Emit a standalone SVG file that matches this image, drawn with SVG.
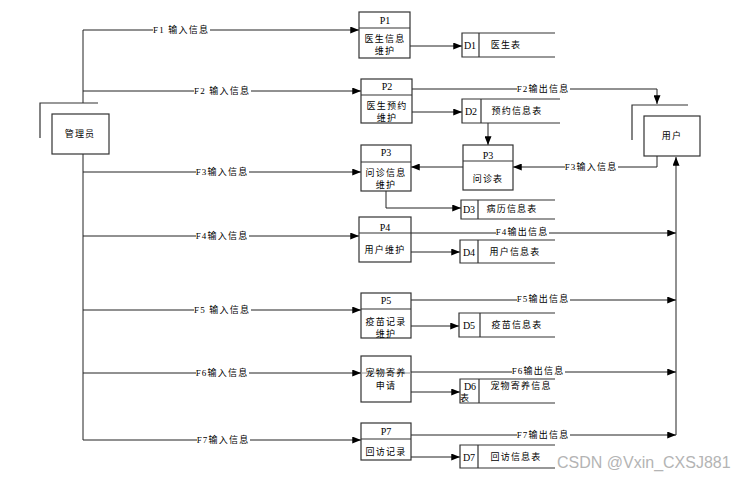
<svg xmlns="http://www.w3.org/2000/svg" width="751" height="480" viewBox="0 0 751 480">
<style>
.b{fill:#fff;stroke:#333;stroke-width:1.2}
.l{fill:none;stroke:#333;stroke-width:1.2}
.c{fill:none;stroke:#222;stroke-width:1}
.t{font-family:"Liberation Serif","Noto Sans CJK SC",serif;font-size:9px;letter-spacing:1.2px;fill:#000;text-anchor:middle;dominant-baseline:central}
.p{font-family:"Liberation Serif",serif;font-size:10px;fill:#000;text-anchor:middle;dominant-baseline:central}
.bg{fill:#fff}
.w{font-family:"Liberation Sans",Arial,sans-serif;font-size:16px;fill:#b4b4b4}
</style>
<defs>
<marker id="a" viewBox="0 0 10 8" refX="10" refY="4" markerWidth="9" markerHeight="7" markerUnits="userSpaceOnUse" orient="auto">
<path d="M0,0L10,4L0,8z" fill="#000"/>
</marker>
</defs>
<g id="connectors">
<path class="c" d="M83,103V30H359" marker-end="url(#a)"/>
<path class="c" d="M83,154V440H361" marker-end="url(#a)"/>
<path class="c" d="M83,91H361" marker-end="url(#a)"/>
<path class="c" d="M83,172H361" marker-end="url(#a)"/>
<path class="c" d="M83,236H359" marker-end="url(#a)"/>
<path class="c" d="M83,310H361" marker-end="url(#a)"/>
<path class="c" d="M83,373H361" marker-end="url(#a)"/>
<path class="c" d="M410,46H462" marker-end="url(#a)"/>
<path class="c" d="M412,112H462" marker-end="url(#a)"/>
<path class="c" d="M411,252H460" marker-end="url(#a)"/>
<path class="c" d="M411,326H459" marker-end="url(#a)"/>
<path class="c" d="M411,392H460" marker-end="url(#a)"/>
<path class="c" d="M411,457H460" marker-end="url(#a)"/>
<path class="c" d="M412,89H657V104" marker-end="url(#a)"/>
<path class="c" d="M657,156V167H513" marker-end="url(#a)"/>
<path class="c" d="M463,167H411" marker-end="url(#a)"/>
<path class="c" d="M488,123V145" marker-end="url(#a)"/>
<path class="c" d="M386,191V208H461" marker-end="url(#a)"/>
<path class="c" d="M411,233H676" marker-end="url(#a)"/>
<path class="c" d="M411,300H676" marker-end="url(#a)"/>
<path class="c" d="M411,372H676" marker-end="url(#a)"/>
<path class="c" d="M411,435H676" marker-end="url(#a)"/>
<path class="c" d="M676,435V157" marker-end="url(#a)"/>
<g id="labels">
<rect class="bg" x="153" y="25" width="57" height="10"/><text class="t" x="181" y="30">F1 输入信息</text>
<rect class="bg" x="194" y="86" width="57" height="10"/><text class="t" x="222" y="91">F2 输入信息</text>
<rect class="bg" x="196" y="167" width="53" height="10"/><text class="t" x="222" y="172">F3输入信息</text>
<rect class="bg" x="196" y="231" width="53" height="10"/><text class="t" x="222" y="236">F4输入信息</text>
<rect class="bg" x="194" y="305" width="57" height="10"/><text class="t" x="222" y="310">F5 输入信息</text>
<rect class="bg" x="196" y="368" width="53" height="10"/><text class="t" x="222" y="373">F6输入信息</text>
<rect class="bg" x="197" y="435" width="53" height="10"/><text class="t" x="223" y="440">F7输入信息</text>
<rect class="bg" x="517" y="84" width="53" height="10"/><text class="t" x="543" y="89">F2输出信息</text>
<rect class="bg" x="565" y="162" width="53" height="10"/><text class="t" x="591" y="167">F3输入信息</text>
<rect class="bg" x="496" y="227" width="53" height="10"/><text class="t" x="522" y="232">F4输出信息</text>
<rect class="bg" x="517" y="295" width="53" height="10"/><text class="t" x="543" y="299">F5输出信息</text>
<rect class="bg" x="512" y="366" width="53" height="10"/><text class="t" x="538" y="371">F6输出信息</text>
<rect class="bg" x="517" y="430" width="53" height="10"/><text class="t" x="543" y="435">F7输出信息</text>
</g>
</g>
<g id="admin">
<path class="l" d="M40,138V103H98"/>
<rect class="b" x="52" y="114" width="57" height="40"/>
<text class="t" x="80" y="134">管理员</text>
</g>
<g id="user">
<path class="l" d="M632,140V105H688"/>
<rect class="b" x="644" y="116" width="56" height="40"/>
<text class="t" x="672" y="136">用户</text>
</g>
<g id="P1">
<rect class="b" x="359" y="12" width="51" height="46"/><path class="l" d="M359,28H410"/>
<text class="p" x="385" y="20">P1</text><text class="t" x="385" y="39">医生信息</text><text class="t" x="385" y="51">维护</text>
</g>
<g id="P2">
<rect class="b" x="361" y="79" width="51" height="44"/><path class="l" d="M361,95H412"/>
<text class="p" x="387" y="86">P2</text><text class="t" x="387" y="106">医生预约</text><text class="t" x="387" y="118">维护</text>
</g>
<g id="P3a">
<rect class="b" x="361" y="145" width="50" height="46"/><path class="l" d="M361,162H411"/>
<text class="p" x="386" y="152">P3</text><text class="t" x="386" y="173">问诊信息</text><text class="t" x="386" y="185">维护</text>
</g>
<g id="P3b">
<rect class="b" x="463" y="145" width="50" height="45"/><path class="l" d="M463,161H513"/>
<text class="p" x="488" y="155">P3</text><text class="t" x="488" y="179">问诊表</text>
</g>
<g id="P4">
<rect class="b" x="359" y="217" width="52" height="45"/><path class="l" d="M359,233H411"/>
<text class="p" x="385" y="227">P4</text><text class="t" x="385" y="250">用户维护</text>
</g>
<g id="P5">
<rect class="b" x="361" y="293" width="50" height="45"/><path class="l" d="M361,309H411"/>
<text class="p" x="386" y="300">P5</text><text class="t" x="386" y="322">疫苗记录</text><text class="t" x="386" y="334">维护</text>
</g>
<g id="P6">
<rect class="b" x="361" y="356" width="50" height="46"/><path d="M361,373H411" stroke="#999" stroke-width="1"/>
<text class="t" x="386" y="373">宠物寄养</text><text class="t" x="386" y="386">申请</text>
</g>
<g id="P7">
<rect class="b" x="361" y="423" width="50" height="37"/><path class="l" d="M361,439H411"/>
<text class="p" x="386" y="431">P7</text><text class="t" x="386" y="452">回访记录</text>
</g>
<g id="D1">
<path class="l" d="M555,33H462V57H555M479,33V57"/>
<text class="p" x="470" y="45">D1</text><text class="t" x="506" y="45">医生表</text>
</g>
<g id="D2">
<path class="l" d="M560,99H462V123H560M481,99V123"/>
<text class="p" x="471" y="111">D2</text><text class="t" x="517" y="111">预约信息表</text>
</g>
<g id="D3">
<path class="l" d="M555,200H461V219H555M478,200V219"/>
<text class="p" x="469" y="209">D3</text><text class="t" x="512" y="209">病历信息表</text>
</g>
<g id="D4">
<path class="l" d="M555,240H460V263H555M478,240V263"/>
<text class="p" x="469" y="252">D4</text><text class="t" x="515" y="252">用户信息表</text>
</g>
<g id="D5">
<path class="l" d="M555,313H459V337H555M480,313V337"/>
<text class="p" x="469" y="325">D5</text><text class="t" x="517" y="325">疫苗信息表</text>
</g>
<g id="D6">
<path class="l" d="M555,379H460V403H555M479,379V403"/>
<text class="p" x="470" y="386">D6</text><text class="t" x="465" y="398">表</text><text class="t" x="521" y="386">宠物寄养信息</text>
</g>
<g id="D7">
<path class="l" d="M555,445H460V468H555M478,445V468"/>
<text class="p" x="469" y="457">D7</text><text class="t" x="516" y="457">回访信息表</text>
</g>
<text class="w" x="557" y="468">CSDN @Vxin_CXSJ881</text>
</svg>
